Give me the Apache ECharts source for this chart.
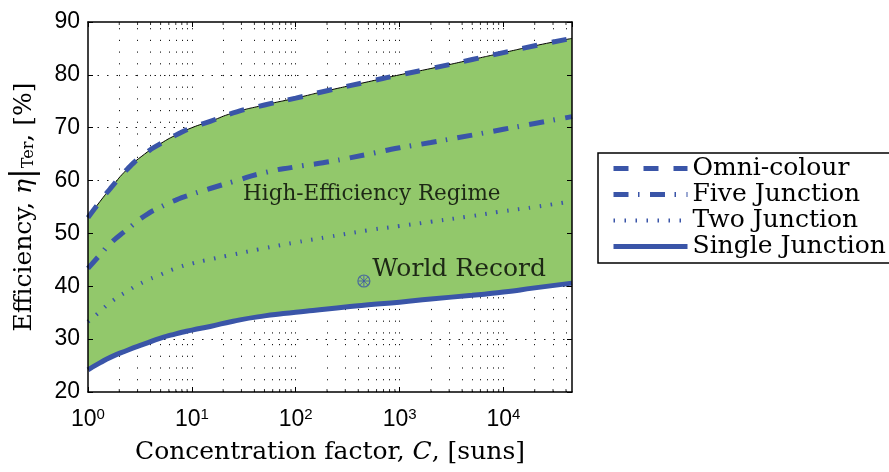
<!DOCTYPE html>
<html><head><meta charset="utf-8">
<script src="https://cdn.jsdelivr.net/npm/echarts@6/dist/echarts.min.js"></script>
<style>html,body{margin:0;padding:0;background:#fff}#c{width:889px;height:472px}</style>
</head><body><div id="c"></div>
<script>
// ---- data ----
const concentration = [1, 1.3, 1.66, 2.4, 3.5, 5, 7, 10, 15, 25, 50, 100, 200, 500, 1000, 2000, 5000, 10000, 20000, 45700];
const omniColour     = [53.0, 56.0, 58.6, 62.2, 65.0, 67.0, 68.6, 70.0, 71.2, 72.8, 74.3, 75.6, 77.0, 78.7, 80.0, 81.2, 82.9, 84.2, 85.5, 86.9];
const fiveJunction   = [43.4, 45.9, 48.2, 50.8, 53.3, 55.0, 56.3, 57.4, 58.5, 59.8, 61.5, 62.6, 63.5, 65.0, 66.2, 67.2, 68.6, 69.7, 70.8, 72.1];
const twoJunction    = [33.3, 35.2, 37.0, 39.1, 40.9, 42.2, 43.4, 44.3, 45.1, 46.0, 47.2, 48.3, 49.3, 50.6, 51.4, 52.2, 53.3, 54.2, 55.0, 56.1];
const singleJunction = [24.2, 25.5, 26.6, 27.9, 29.1, 30.2, 31.0, 31.7, 32.4, 33.4, 34.4, 35.1, 35.7, 36.5, 37.0, 37.6, 38.3, 38.9, 39.7, 40.6];
const worldRecord = [453, 41.0];
const regimeLabelAt = [540, 57.3];
const seriesNames = ['Omni-colour', 'Five Junction', 'Two Junction', 'Single Junction'];
const xMin = 1, xMax = 45700;
const yMin = 20, yMax = 90, yStep = 10;
const xDecades = [1, 10, 100, 1000, 10000];
const yGridValues = [30, 40, 50, 60, 70, 80];

// ---- styling ----
const BLUE = '#3A55A8';
const GREEN = '#92C86B';
const SERIF = 'DejaVu Serif';
const SANS = 'Liberation Sans';

const minorX = [];
xDecades.forEach(d => { for (let m = 2; m <= 9; m++) { const v = d * m; if (v < xMax) minorX.push(v); } });
const vertGrid = xDecades.slice(1).concat(minorX);

const pairs = arr => concentration.map((c, i) => [c, arr[i]]);
// for the stacked band the value (y) dimension comes first so that it is the stacked one
const bandBase = concentration.map((c, i) => [singleJunction[i], c]);
const bandHeight = concentration.map((c, i) => [+(omniColour[i] - singleJunction[i]).toFixed(2), c]);
const SMOOTH = 0.6;

const chart = echarts.init(document.getElementById('c'), null, {renderer: 'canvas'});
const xLabelFmt = v => {
  const e = Math.log10(v);
  if (Math.abs(e - Math.round(e)) > 1e-6) return '';
  return '{b|10}{s|' + Math.round(e) + '}';
};

chart.setOption({
  animation: false,
  backgroundColor: '#fff',
  grid: {left: 85, right: 317, top: 22, bottom: 80, containLabel: false},
  legend: {
    orient: 'vertical', left: 598, top: 153,
    data: seriesNames,
    icon: 'inherit',
    itemWidth: 74, itemHeight: 14, itemGap: 1,
    padding: [3, 4, 4, 13],
    borderColor: '#000', borderWidth: 1.5,
    itemStyle: {color: 'rgba(0,0,0,0)', borderWidth: 0},
    lineStyle: {width: 'inherit'},
    textStyle: {fontFamily: SERIF, fontSize: 25, color: '#000', lineHeight: 25},
    selectedMode: false
  },
  xAxis: [{
    type: 'log', logBase: 10, min: xMin, max: xMax, position: 'bottom', z: 10,
    axisLine: {show: true, lineStyle: {color: '#000', width: 1.5}},
    axisTick: {show: true, inside: true, length: 5, lineStyle: {color: '#000', width: 1}},
    splitLine: {show: false}, minorTick: {show: false},
    axisLabel: {
      formatter: xLabelFmt, showMaxLabel: false, margin: 15,
      rich: {
        b: {fontFamily: SANS, fontSize: 23, color: '#000', lineHeight: 24, verticalAlign: 'bottom'},
        s: {fontFamily: SANS, fontSize: 15, color: '#000', lineHeight: 24, verticalAlign: 'top', padding: [0, 0, 10, 0]}
      }
    },
    name: 'Concentration factor, {it|C}, [suns]', nameLocation: 'middle', nameGap: 48,
    nameTextStyle: {fontFamily: SERIF, fontSize: 25, color: '#000',
      rich: {it: {fontFamily: SERIF, fontStyle: 'italic', fontSize: 25, color: '#000'}}}
  }, {
    type: 'log', logBase: 10, min: xMin, max: xMax, position: 'top', z: 10,
    axisLine: {show: true, lineStyle: {color: '#000', width: 1.5}},
    axisTick: {show: true, inside: true, length: 5, lineStyle: {color: '#000', width: 1}},
    axisLabel: {show: false}, splitLine: {show: false}
  }],
  yAxis: [{
    type: 'value', min: yMin, max: yMax, interval: yStep, position: 'left', z: 10,
    axisLine: {show: true, lineStyle: {color: '#000', width: 1.5}},
    axisTick: {show: true, inside: true, length: 5, lineStyle: {color: '#000', width: 1}},
    splitLine: {show: false},
    axisLabel: {fontFamily: SANS, fontSize: 23, color: '#000', margin: 8},
    name: 'Efficiency, {it|η}{bar||}{sub|Ter}, [%]', nameLocation: 'middle', nameRotate: 90, nameGap: 48,
    nameTextStyle: {fontFamily: SERIF, fontSize: 25, color: '#000',
      rich: {
        it: {fontFamily: SERIF, fontStyle: 'italic', fontSize: 25, color: '#000'},
        bar: {fontFamily: SERIF, fontSize: 32, color: '#000'},
        sub: {fontFamily: SERIF, fontSize: 16, color: '#000', padding: [10, 0, 0, 0]}
      }}
  }, {
    type: 'value', min: yMin, max: yMax, interval: yStep, position: 'right', z: 10,
    axisLine: {show: true, lineStyle: {color: '#000', width: 1.5}},
    axisTick: {show: true, inside: true, length: 5, lineStyle: {color: '#000', width: 1}},
    axisLabel: {show: false}, splitLine: {show: false}
  }],
  series: [
    {
      name: 'gridLines', type: 'line', data: [], silent: true, z: 1,
      markLine: {
        silent: true, z: 1, symbol: ['none', 'none'], label: {show: false}, animation: false,
        data: vertGrid.map(v => ({xAxis: v, lineStyle: {color: '#000', width: 1, type: [1.2, 10.5], opacity: 0.9}}))
          .concat(yGridValues.map(v => ({yAxis: v, lineStyle: {color: '#000', width: 1, type: [1.5, 8], opacity: 0.9}})))
      }
    },
    {
      name: 'bandBase', type: 'line', stack: 'band', data: bandBase, encode: {x: 1, y: 0}, symbol: 'none',
      smooth: SMOOTH, lineStyle: {width: 0, opacity: 0}, silent: true, z: 2
    },
    {
      name: 'bandTop', type: 'line', stack: 'band', data: bandHeight, encode: {x: 1, y: 0}, symbol: 'none',
      smooth: SMOOTH, lineStyle: {width: 1, color: '#000'}, areaStyle: {color: GREEN, opacity: 1}, silent: true, z: 2
    },
    {
      name: 'Two Junction', type: 'line', data: pairs(twoJunction), symbol: 'none', smooth: SMOOTH, z: 3,
      color: BLUE, lineStyle: {color: BLUE, width: 4, type: [1.5, 9.5]}
    },
    {
      name: 'Five Junction', type: 'line', data: pairs(fiveJunction), symbol: 'none', smooth: SMOOTH, z: 3,
      color: BLUE, lineStyle: {color: BLUE, width: 5, type: [15, 9.5, 1.5, 10.5]}
    },
    {
      name: 'Omni-colour', type: 'line', data: pairs(omniColour), symbol: 'none', smooth: SMOOTH, z: 3,
      color: BLUE, lineStyle: {color: BLUE, width: 5, type: [15, 15]}
    },
    {
      name: 'Single Junction', type: 'line', data: pairs(singleJunction), symbol: 'none', smooth: SMOOTH, z: 3,
      color: BLUE, lineStyle: {color: BLUE, width: 5}
    },
    {
      name: 'minorTicksBottom', type: 'scatter', data: minorX.map(v => [v, yMin]), symbol: 'rect',
      symbolSize: [1, 3], symbolOffset: [0, -1.5], itemStyle: {color: '#000'}, silent: true, clip: false, z: 5
    },
    {
      name: 'minorTicksTop', type: 'scatter', data: minorX.map(v => [v, yMax]), symbol: 'rect',
      symbolSize: [1, 3], symbolOffset: [0, 1.5], itemStyle: {color: '#000'}, silent: true, clip: false, z: 5
    },
    {
      name: 'worldRecordCircle', type: 'scatter', data: [worldRecord], symbol: 'circle', symbolSize: 12,
      itemStyle: {color: 'none', borderColor: BLUE, borderWidth: 1.2}, silent: true, z: 6,
      label: {show: true, position: 'right', distance: 0, offset: [0, -12], formatter: 'World Record',
        fontFamily: SERIF, fontSize: 25, color: '#000'}
    },
    {
      name: 'worldRecordStar', type: 'scatter', data: [worldRecord],
      symbol: 'path://M0,-1L0,1M-1,0L1,0M-0.707,-0.707L0.707,0.707M-0.707,0.707L0.707,-0.707',
      symbolSize: 11, symbolKeepAspect: true,
      itemStyle: {color: 'none', borderColor: BLUE, borderWidth: 1}, silent: true, z: 6
    },
    {
      name: 'regimeLabel', type: 'scatter', data: [regimeLabelAt], symbol: 'circle', symbolSize: 2, silent: true, z: 6,
      itemStyle: {color: 'rgba(0,0,0,0)'},
      label: {show: true, position: 'inside', formatter: 'High-Efficiency Regime',
        fontFamily: SERIF, fontSize: 21.5, color: '#000'}
    }
  ]
});
</script></body></html>
